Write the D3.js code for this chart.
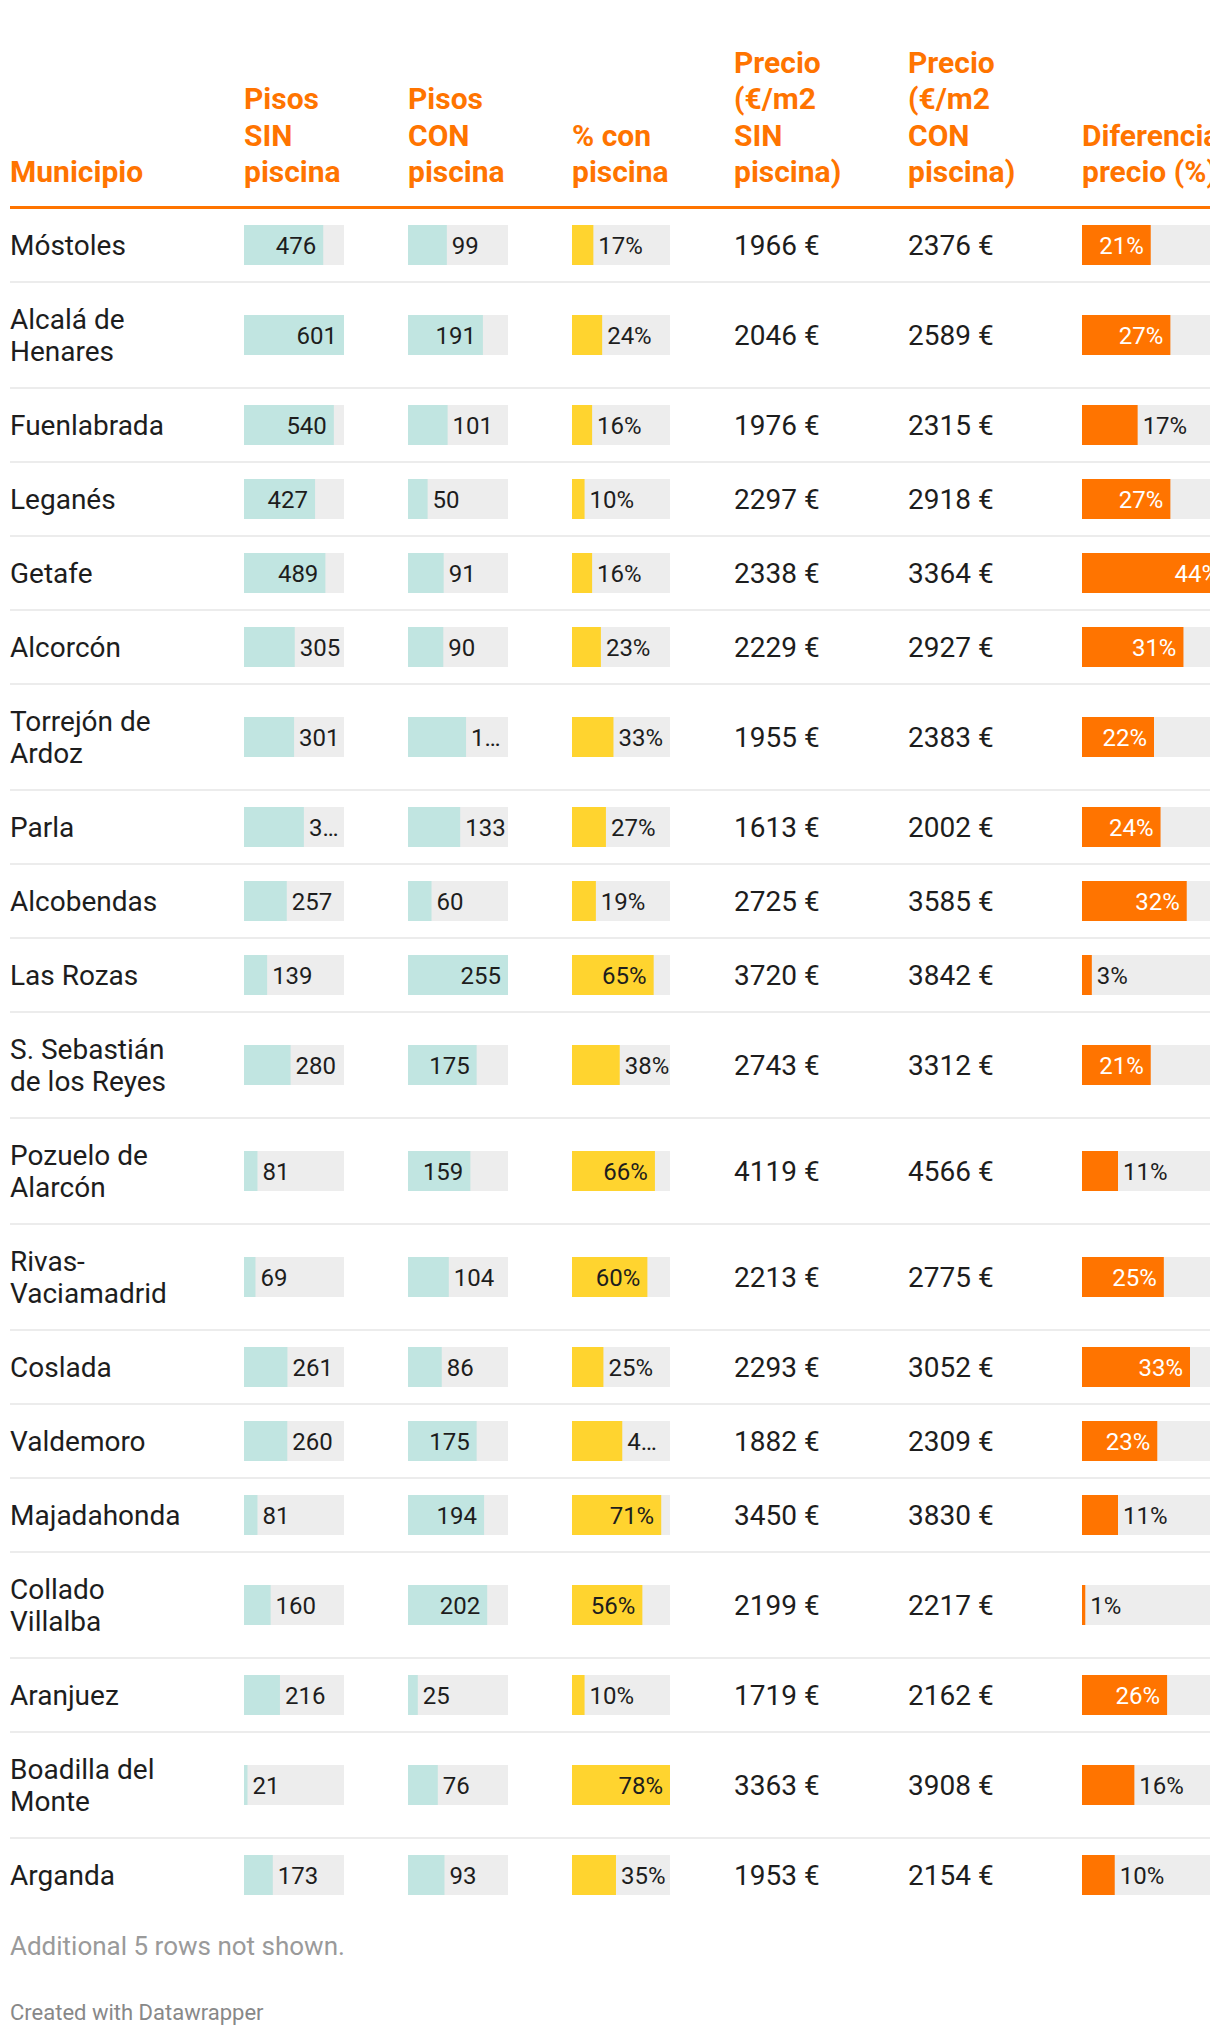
<!DOCTYPE html>
<html><head><meta charset="utf-8">
<script src="https://cdn.jsdelivr.net/npm/d3@7"></script>
<style>
body{margin:0;background:#fff}
svg text{font-family:Roboto, "Noto Sans", sans-serif}
</style>
</head><body>
<svg id="chart" width="1220" height="2038"></svg>
<script>
// ---- data ----
const municipios = ["Móstoles","Alcalá de Henares","Fuenlabrada","Leganés","Getafe","Alcorcón","Torrejón de Ardoz","Parla","Alcobendas","Las Rozas","S. Sebastián de los Reyes","Pozuelo de Alarcón","Rivas-Vaciamadrid","Coslada","Valdemoro","Majadahonda","Collado Villalba","Aranjuez","Boadilla del Monte","Arganda"];
const pisosSin = [476,601,540,427,489,305,301,360,257,139,280,81,69,261,260,81,160,216,21,173];
const pisosCon = [99,191,101,50,91,90,148,133,60,255,175,159,104,86,175,194,202,25,76,93];
const pctCon = [17,24,16,10,16,23,33,27,19,65,38,66,60,25,40,71,56,10,78,35];
const precioSin = [1966,2046,1976,2297,2338,2229,1955,1613,2725,3720,2743,4119,2213,2293,1882,3450,2199,1719,3363,1953];
const precioCon = [2376,2589,2315,2918,3364,2927,2383,2002,3585,3842,3312,4566,2775,3052,2309,3830,2217,2162,3908,2154];
const diferencia = [21,27,17,27,44,31,22,24,32,3,21,11,25,33,23,11,1,26,16,10];
const headers = [["Municipio"],["Pisos","SIN","piscina"],["Pisos","CON","piscina"],["% con","piscina"],["Precio","(€/m2","SIN","piscina)"],["Precio","(€/m2","CON","piscina)"],["Diferencia","precio (%)"]];
const footerNote = "Additional 5 rows not shown.";
const credit = "Created with Datawrapper";

// ---- style / layout ----
const ORANGE="#ff7400", TEAL="#c1e5e1", GRAY="#ededed", YELLOW="#ffd42f", TEXT="#1d1d1d", SEP="#ececec";
const colX = [10,244,408,572,734,908,1082];
const svg = d3.select("#chart");
svg.append("rect").attr("width",1220).attr("height",2038).attr("fill","#fff");
svg.append("defs").append("clipPath").attr("id","clip").append("rect").attr("x",0).attr("y",0).attr("width",1210).attr("height",2038);
const g = svg.append("g").attr("clip-path","url(#clip)");

const xSin = d3.scaleLinear().domain([0,d3.max(pisosSin)]).range([0,100]);
const xCon = d3.scaleLinear().domain([0,d3.max(pisosCon)]).range([0,100]);
const xPct = d3.scaleLinear().domain([0,d3.max(pctCon)]).range([0,98]);
const xDif = d3.scaleLinear().domain([0,d3.max(diferencia)]).range([0,144]);

// measuring helper
const meas = svg.append("text").attr("x",-1000).attr("y",-1000);
function textW(str,size,weight){
  meas.attr("font-size",size).attr("font-weight",weight||400).text(str);
  return meas.node().getComputedTextLength();
}
function wrap(str,size,maxW){
  const tokens = str.replace(/-/g,"- ").split(" ").filter(s=>s.length);
  const lines=[]; let cur="";
  tokens.forEach(t=>{
    const joiner = cur===""?"":(cur.endsWith("-")?"":" ");
    const cand = cur+joiner+t;
    if(cur!=="" && textW(cand,size)>maxW){lines.push(cur);cur=t;}
    else cur=cand;
  });
  if(cur) lines.push(cur);
  return lines;
}

// ---- header ----
headers.forEach((lines,i)=>{
  const n=lines.length;
  lines.forEach((l,k)=>{
    g.append("text").attr("x",colX[i]).attr("y",182-(n-1-k)*36.5)
      .attr("font-size",30).attr("font-weight",700).attr("fill",ORANGE).text(l);
  });
});
g.append("rect").attr("x",10).attr("y",206).attr("width",1200).attr("height",3).attr("fill",ORANGE);

// ---- rows ----
const LBL=24;
function barCell(x0,scale,value,label,color,bgW,insideWhite,cy){
  const w = scale(value);
  g.append("rect").attr("x",x0).attr("y",cy-20).attr("width",bgW).attr("height",40).attr("fill",GRAY);
  g.append("rect").attr("x",x0).attr("y",cy-20).attr("width",w).attr("height",40).attr("fill",color);
  const tw = textW(label,LBL);
  const t = g.append("text").attr("y",cy+8.5).attr("font-size",LBL);
  if(w >= tw+21){
    t.attr("x",x0+w-7).attr("text-anchor","end").attr("fill",insideWhite?"#fff":TEXT).text(label);
  } else {
    const avail = bgW - w - 5;
    let s = label;
    if(tw > avail){
      const av2 = avail - 5;
      let k = label.length-1;
      while(k>1 && textW(label.slice(0,k)+"…",LBL)>av2) k--;
      s = label.slice(0,k)+"…";
    }
    t.attr("x",x0+w+5).attr("fill",TEXT).text(s);
  }
}

let rowTop=209;
municipios.forEach((name,i)=>{
  const lines = wrap(name,28,182);
  const h = lines.length===1?72:104;
  const cy = rowTop+h/2;
  lines.forEach((l,k)=>{
    g.append("text").attr("x",colX[0]).attr("y",cy+10+(k-(lines.length-1)/2)*32)
      .attr("font-size",28).attr("fill",TEXT).text(l);
  });
  barCell(colX[1],xSin,pisosSin[i],String(pisosSin[i]),TEAL,100,false,cy);
  barCell(colX[2],xCon,pisosCon[i],String(pisosCon[i]),TEAL,100,false,cy);
  barCell(colX[3],xPct,pctCon[i],pctCon[i]+"%",YELLOW,98,false,cy);
  g.append("text").attr("x",colX[4]).attr("y",cy+10).attr("font-size",28).attr("fill",TEXT).text(precioSin[i]+" €");
  g.append("text").attr("x",colX[5]).attr("y",cy+10).attr("font-size",28).attr("fill",TEXT).text(precioCon[i]+" €");
  barCell(colX[6],xDif,diferencia[i],diferencia[i]+"%",ORANGE,144,true,cy);
  if(i<municipios.length-1){
    g.append("rect").attr("x",10).attr("y",rowTop+h).attr("width",1200).attr("height",2).attr("fill",SEP);
  }
  rowTop += h+2;
});

// ---- footer ----
svg.append("text").attr("x",10).attr("y",1955).attr("font-size",26).attr("fill","#9a9a9a").text(footerNote);
svg.append("text").attr("x",10).attr("y",2020).attr("font-size",22).attr("fill","#888").text(credit);
meas.remove();
</script>
</body></html>
